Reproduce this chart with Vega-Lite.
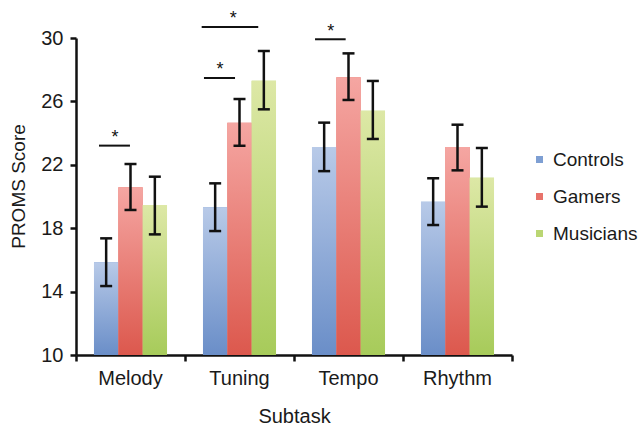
{
  "$schema": "https://vega.github.io/schema/vega-lite/v6.json",
  "width": 436,
  "height": 317,
  "autosize": "none",
  "padding": {"left": 76, "top": 38, "right": 132, "bottom": 74},
  "background": "white",
  "config": {
    "font": "Liberation Sans",
    "view": {"stroke": null},
    "axis": {"labelColor": "#1a1a1a", "titleColor": "#1a1a1a", "labelFontSize": 20, "titleFontSize": 20, "titleFontWeight": "normal", "grid": false, "domainColor": "#111", "tickColor": "#111", "domainWidth": 2.5, "tickWidth": 2.5},
    "legend": {"labelFontSize": 19, "labelColor": "#1a1a1a"}
  },
  "datasets": {
    "bars": [
      {"Subtask": "Melody", "Group": "Controls", "score": 15.85, "lo": 14.35, "hi": 17.36},
      {"Subtask": "Melody", "Group": "Gamers", "score": 20.58, "lo": 19.15, "hi": 22.05},
      {"Subtask": "Melody", "Group": "Musicians", "score": 19.46, "lo": 17.61, "hi": 21.25},
      {"Subtask": "Tuning", "Group": "Controls", "score": 19.32, "lo": 17.82, "hi": 20.83},
      {"Subtask": "Tuning", "Group": "Gamers", "score": 24.66, "lo": 23.2, "hi": 26.15},
      {"Subtask": "Tuning", "Group": "Musicians", "score": 27.31, "lo": 25.5, "hi": 29.18},
      {"Subtask": "Tempo", "Group": "Controls", "score": 23.12, "lo": 21.6, "hi": 24.66},
      {"Subtask": "Tempo", "Group": "Gamers", "score": 27.52, "lo": 26.09, "hi": 29.03},
      {"Subtask": "Tempo", "Group": "Musicians", "score": 25.41, "lo": 23.63, "hi": 27.29},
      {"Subtask": "Rhythm", "Group": "Controls", "score": 19.67, "lo": 18.2, "hi": 21.15},
      {"Subtask": "Rhythm", "Group": "Gamers", "score": 23.12, "lo": 21.65, "hi": 24.53},
      {"Subtask": "Rhythm", "Group": "Musicians", "score": 21.19, "lo": 19.36, "hi": 23.06}
    ],
    "sig": [
      {"x1": 0.211, "x2": 0.495, "y": 23.21, "sx": 0.358, "sy": 23.94},
      {"x1": 1.174, "x2": 1.459, "y": 27.48, "sx": 1.321, "sy": 28.25},
      {"x1": 1.153, "x2": 1.672, "y": 30.69, "sx": 1.443, "sy": 31.45},
      {"x1": 2.193, "x2": 2.474, "y": 29.92, "sx": 2.337, "sy": 30.61}
    ]
  },
  "layer": [
    {
      "data": {"name": "bars"},
      "encoding": {
        "x": {"field": "Subtask", "type": "nominal", "sort": ["Melody", "Tuning", "Tempo", "Rhythm"],
              "scale": {"paddingInner": 0.33, "paddingOuter": 0.165},
              "axis": {"title": "Subtask", "labelAngle": 0, "ticks": false, "labelPadding": 13, "titlePadding": 18}},
        "xOffset": {"field": "Group", "type": "nominal", "sort": ["Controls", "Gamers", "Musicians"], "scale": {"paddingInner": 0, "paddingOuter": 0}}
      },
      "layer": [
        {
          "mark": {"type": "bar", "clip": true},
          "encoding": {
            "y": {"field": "score", "type": "quantitative", "scale": {"domain": [10, 30], "nice": false, "zero": false},
                  "axis": {"title": "PROMS Score", "titleFontSize": 19, "values": [10, 14, 18, 22, 26, 30], "tickSize": 6, "labelPadding": 7, "titleX": -58, "titleY": 148, "titleAngle": -90, "titleAlign": "center", "titleBaseline": "middle"}},
            "y2": {"datum": 10},
            "color": {"field": "Group", "type": "nominal", "sort": ["Controls", "Gamers", "Musicians"],
                      "scale": {"range": ["#7e9fd3", "#e8736b", "#bad673"]},
                      "legend": {"title": null, "orient": "none", "legendX": 454, "legendY": 112, "symbolType": "square", "symbolSize": 49, "symbolStrokeWidth": 0, "labelOffset": 4, "rowPadding": 17, "padding": 0}}
          }
        },
        {
          "mark": {"type": "bar", "clip": true},
          "encoding": {
            "y": {"field": "score", "type": "quantitative", "scale": {"domain": [10, 30], "nice": false, "zero": false}},
            "y2": {"datum": 10},
            "fill": {
              "condition": [
                {"test": "datum.Group === 'Controls'", "value": {"gradient": "linear", "x1": 0, "y1": 0, "x2": 0, "y2": 1, "stops": [{"offset": 0, "color": "#b8cae8"}, {"offset": 1, "color": "#6a8ec8"}]}},
                {"test": "datum.Group === 'Gamers'", "value": {"gradient": "linear", "x1": 0, "y1": 0, "x2": 0, "y2": 1, "stops": [{"offset": 0, "color": "#f5a6a2"}, {"offset": 1, "color": "#dc584d"}]}}
              ],
              "value": {"gradient": "linear", "x1": 0, "y1": 0, "x2": 0, "y2": 1, "stops": [{"offset": 0, "color": "#dde8a6"}, {"offset": 1, "color": "#a7cb5a"}]}
            }
          }
        },
        {
          "mark": {"type": "rule", "color": "#111", "strokeWidth": 2.5},
          "encoding": {"y": {"field": "lo", "type": "quantitative"}, "y2": {"field": "hi"}}
        },
        {
          "mark": {"type": "tick", "color": "#111", "thickness": 2.5, "size": 12, "opacity": 1},
          "encoding": {"y": {"field": "lo", "type": "quantitative"}}
        },
        {
          "mark": {"type": "tick", "color": "#111", "thickness": 2.5, "size": 12, "opacity": 1},
          "encoding": {"y": {"field": "hi", "type": "quantitative"}}
        }
      ]
    },
    {
      "data": {"name": "sig"},
      "layer": [
        {
          "mark": {"type": "rule", "color": "#111", "strokeWidth": 2},
          "encoding": {
            "x": {"field": "x1", "type": "quantitative", "scale": {"domain": [0, 4], "nice": false, "zero": false},
                  "axis": {"orient": "bottom", "values": [0, 1, 2, 3, 4], "labels": false, "domain": false, "ticks": true, "tickSize": 6, "grid": false, "title": null}},
            "x2": {"field": "x2"},
            "y": {"field": "y", "type": "quantitative", "scale": {"domain": [10, 30], "nice": false, "zero": false}}
          }
        },
        {
          "mark": {"type": "text", "text": "*", "fontSize": 18, "color": "#111", "baseline": "middle", "dy": 4},
          "encoding": {
            "x": {"field": "sx", "type": "quantitative"},
            "y": {"field": "sy", "type": "quantitative"}
          }
        }
      ]
    }
  ],
  "resolve": {"scale": {"x": "independent"}}
}
